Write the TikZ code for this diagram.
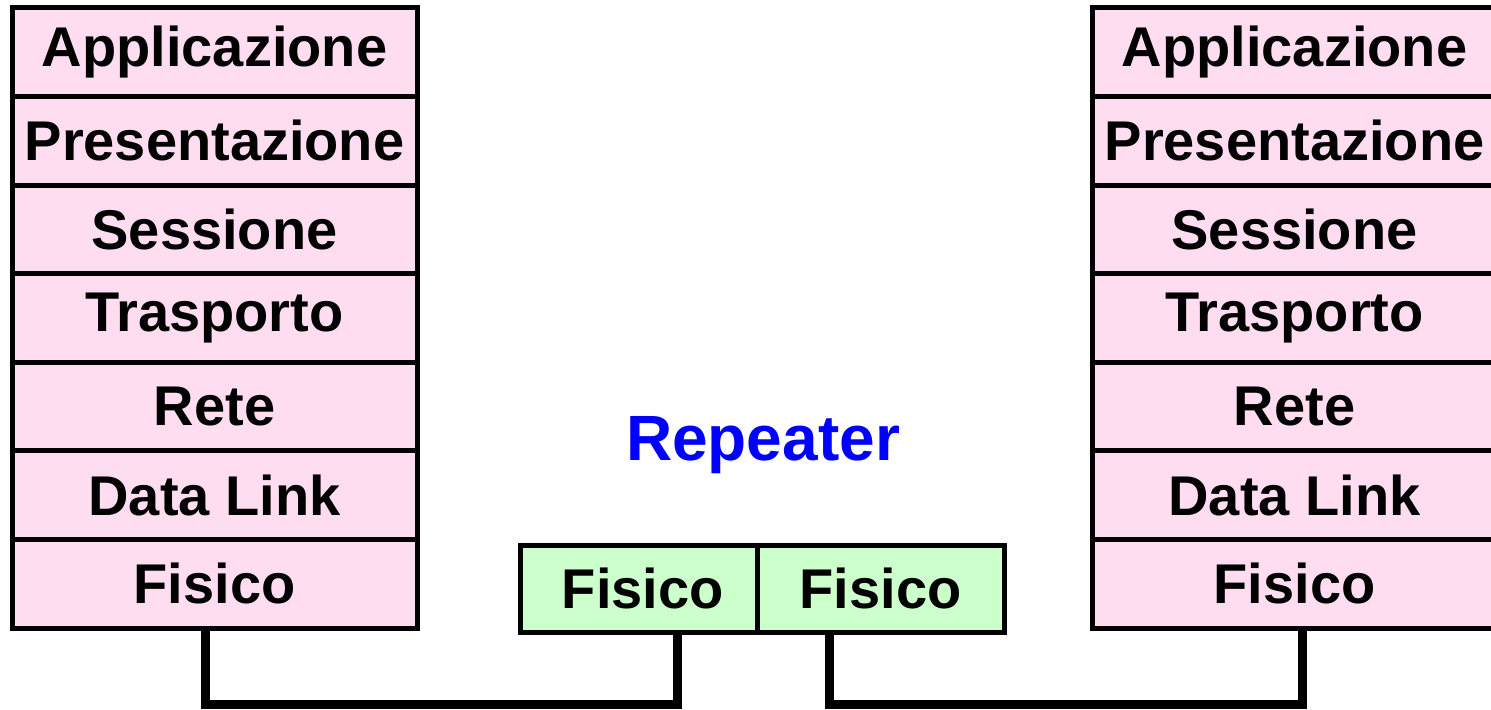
\documentclass[tikz,border=0pt]{standalone}
\usepackage{fontspec}
\setmainfont{Liberation Sans}
\begin{document}
\begin{tikzpicture}[x=0.5pt,y=-0.5pt,
  layer/.style={draw=black, line width=2.5pt, fill=osipink, rectangle,
    minimum width=202.5pt, minimum height=44.3pt, inner sep=0pt,
    font=\fontsize{28}{30}\selectfont\bfseries},
  phys/.style={draw=black, line width=2.5pt, fill=physgreen, rectangle,
    minimum height=43.25pt, inner sep=0pt,
    font=\fontsize{28}{30}\selectfont\bfseries},
  wire/.style={draw=black, line width=4.5pt, line join=miter}]
\definecolor{osipink}{RGB}{255,221,240}
\definecolor{physgreen}{RGB}{204,255,204}
\definecolor{repblue}{RGB}{0,0,255}
\useasboundingbox (0,0) rectangle (1491,709);
\clip (0,0) rectangle (1491,709);

% two seven-layer stacks
\foreach \i/\txt in {1/Applicazione,2/Presentazione,3/Sessione,4/Trasporto,5/Rete,6/Data Link,7/Fisico}{
  \node[layer] (l\i) at (214.5, {8+88.57*(\i-0.5)}) {\txt};
  \node[layer] (r\i) at (1294.5, {8+88.57*(\i-0.5)}) {\txt};
}

% repeater: physical layer only
\node[phys, minimum width=118.25pt] (p1) at (638.75,588.75) {\hspace*{4pt}Fisico};
\node[phys, minimum width=123.5pt] (p2) at (880.5,588.75) {Fisico};
\node[text=repblue, font=\fontsize{32}{34}\selectfont\bfseries] (rep) at (763,445) {Repeater};

% cabling
\coordinate (bus) at (0,704);
\draw[wire] ([xshift=-4.75pt]l7.south) -- ([xshift=-4.75pt]l7.south |- bus) -| ([xshift=19.4pt]p1.south);
\draw[wire] ([xshift=-25.5pt]p2.south) -- ([xshift=-25.5pt]p2.south |- bus) -| ([xshift=3.75pt]r7.south);
\end{tikzpicture}
\end{document}
